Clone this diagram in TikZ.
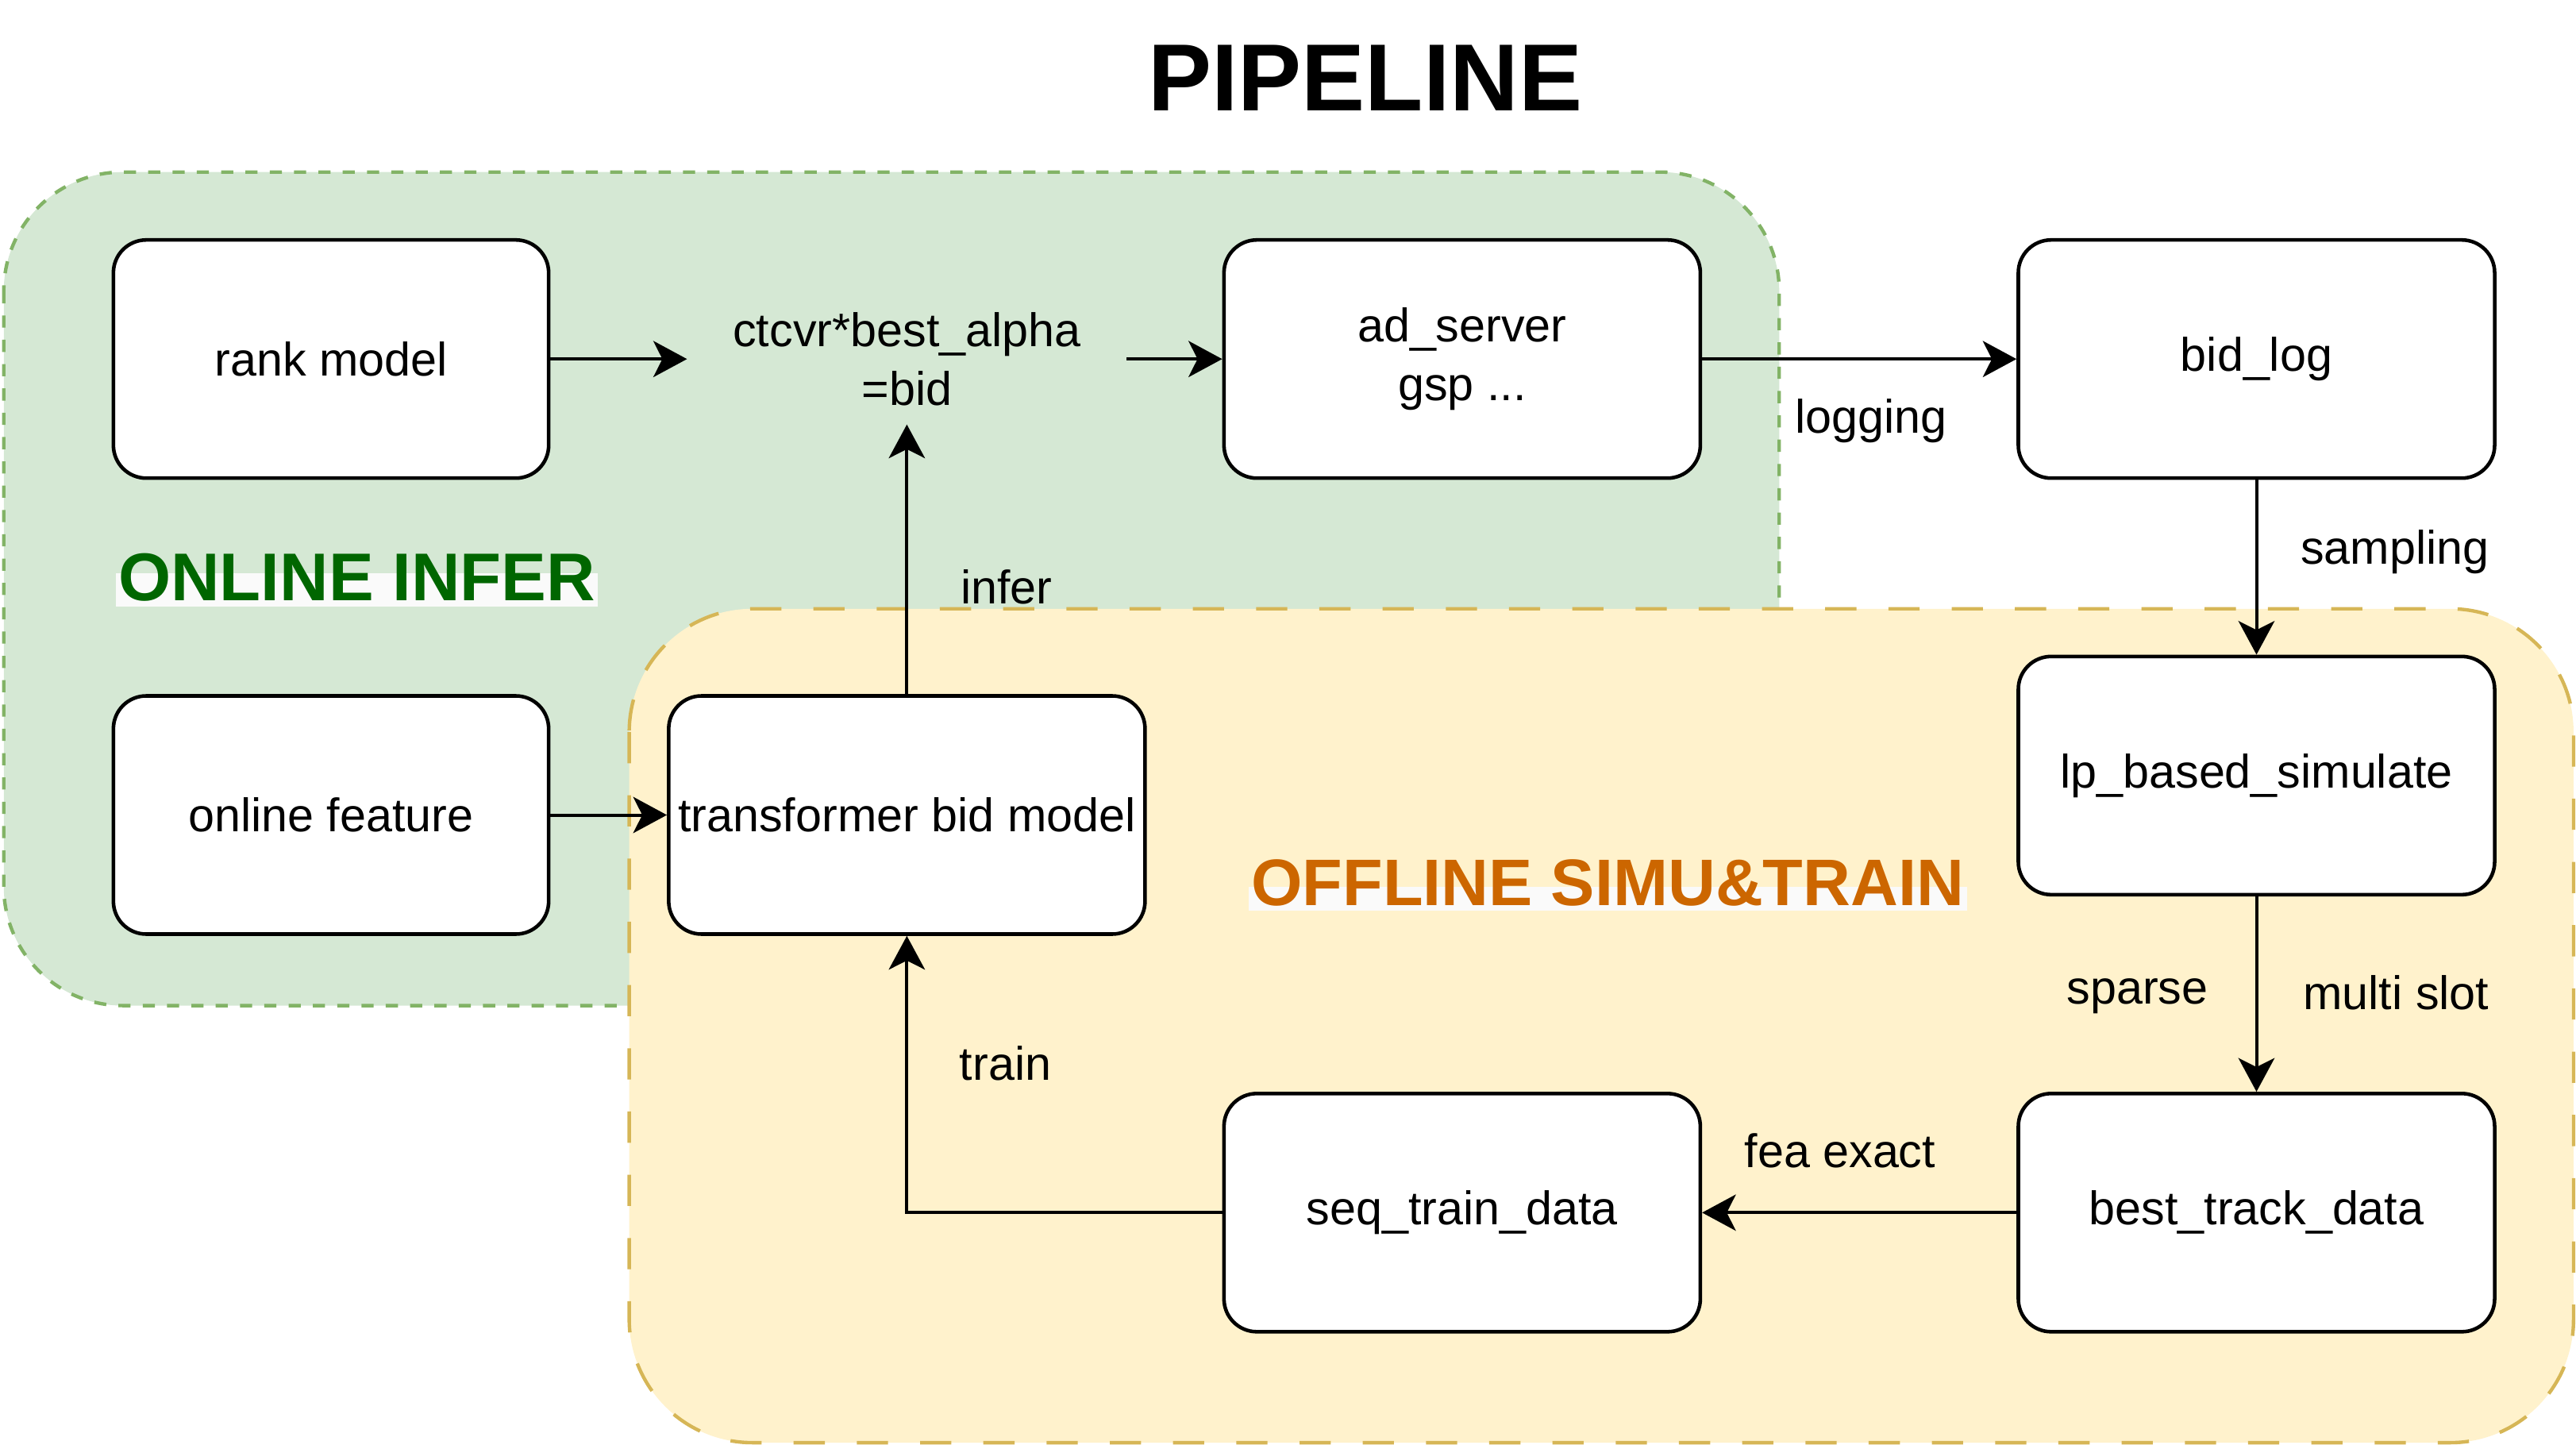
\documentclass[tikz,border=0pt]{standalone}
\usepackage{fontspec}
\setmainfont{Liberation Sans}
\usetikzlibrary{positioning,arrows.meta}

\definecolor{onlinefill}{HTML}{D5E8D4}
\definecolor{onlineline}{HTML}{82B366}
\definecolor{offlinefill}{HTML}{FFF2CC}
\definecolor{offlineline}{HTML}{D6B656}
\definecolor{onlinetext}{HTML}{006600}
\definecolor{offlinetext}{HTML}{CC6600}
\definecolor{tagback}{HTML}{FAFAFA}

\newcommand{\boxfont}{\fontsize{16.3}{20.3}\selectfont}
\newcommand{\titlefont}{\fontsize{33}{40}\selectfont\bfseries}

\tikzset{
  box/.style={draw,line width=1.25pt,fill=white,rounded corners=0.4cm,
    minimum width=5.8cm,minimum height=2.9cm,inner sep=0pt,align=center,font=\boxfont},
  narrowbox/.style={box,minimum width=5.3cm},
  flow/.style={line width=1.1pt,-{Stealth[length=0.41cm,width=0.44cm,inset=0.11cm]}},
  lbl/.style={inner sep=0pt,align=center,font=\boxfont},
  tag/.style={fill=tagback,inner xsep=1pt,inner ysep=0pt,anchor=base},
  onlinezone/.style={fill=onlinefill,draw=onlineline,line width=1.2pt,
    dash pattern=on 0.148cm off 0.148cm,rounded corners=1.45cm},
  offlinezone/.style={fill=offlinefill,draw=offlineline,line width=1.2pt,
    dash pattern=on 0.38cm off 0.39cm,rounded corners=1.5cm},
}

\begin{document}
\begin{tikzpicture}[x=0.02cm,y=-0.02cm]
\useasboundingbox (0,0) rectangle (1568,879.4);
\draw[onlinezone] (2.3,104.7) rectangle (1083,612);
\draw[offlinezone] (383,370.5) rectangle (1566.5,878);

\node[font=\titlefont] (title) at (831,47.3) {PIPELINE};
\node[tag,text=onlinetext,font=\fontsize{23.4}{28}\selectfont\bfseries,
  text height=0.96em,text depth=0.21em] (online) at (217.2,365.5) {ONLINE INFER};
\node[tag,text=offlinetext,font=\fontsize{22.8}{27}\selectfont\bfseries,
  text height=0.64em,text depth=0.17em] (offline) at (978.6,551) {OFFLINE SIMU\&TRAIN};

\node[narrowbox] (rank) at (201.5,218.5) {rank model};
\node[lbl,minimum width=5.34cm,minimum height=1.58cm] (bid) at (552,218.5) {ctcvr*best\_alpha\\=bid};
\node[box] (adsrv) at (890,218.5) {ad\_server\\gsp ...};
\node[box] (bidlog) at (1373.5,218.5) {bid\_log};
\node[narrowbox] (feat) at (201.5,496) {online feature};
\node[box] (tbm) at (552,496) {transformer bid model};
\node[box] (simu) at (1373.5,472) {lp\_based\_simulate};
\node[box] (seq) at (890,738) {seq\_train\_data};
\node[box] (best) at (1373.5,738) {best\_track\_data};

\draw[flow] (rank) -- (bid);
\draw[flow] (bid) -- (adsrv);
\draw[flow] (adsrv) -- (bidlog);
\draw[flow] (feat) -- (tbm);
\draw[flow] (tbm) -- (bid);
\draw[flow] (bidlog) -- (simu);
\draw[flow] (simu) -- (best);
\draw[flow] (best) -- (seq);
\draw[flow] (seq.west) -| (tbm.south);

\node[lbl] (logging) at (1139,256) {logging};
\node[lbl] (sampling) at (1457.7,335.7) {sampling};
\node[lbl] (infer) at (612.6,357) {infer};
\node[lbl] (sparse) at (1301,606.5) {sparse};
\node[lbl] (multislot) at (1458.5,604) {multi slot};
\node[lbl] (train) at (612,647) {train};
\node[lbl] (feaexact) at (1120,700.5) {fea exact};
\end{tikzpicture}
\end{document}
